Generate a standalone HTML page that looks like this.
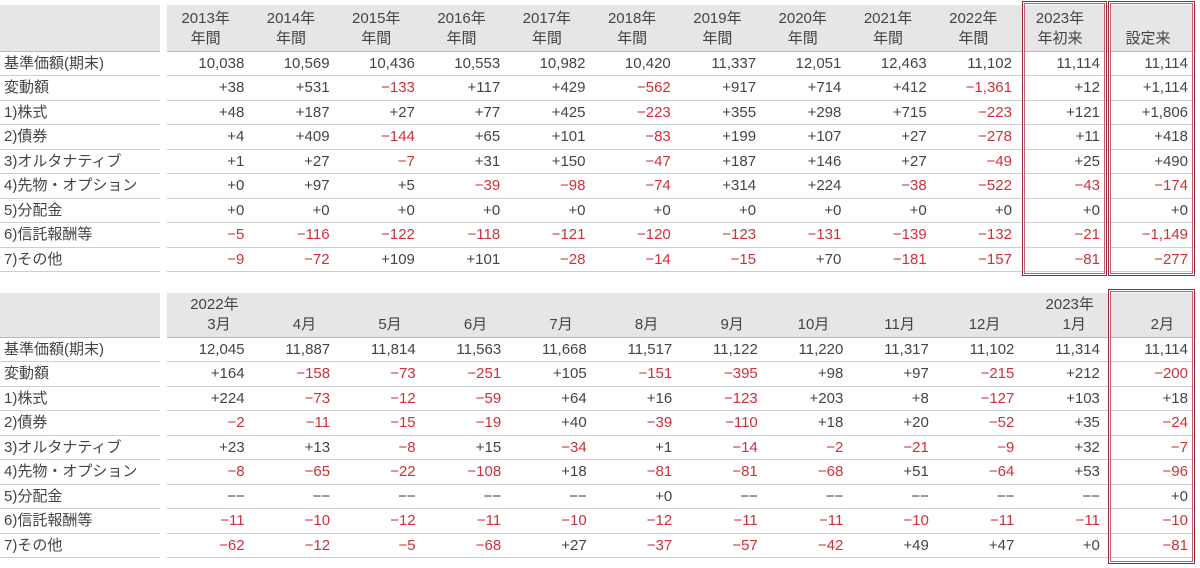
<!DOCTYPE html>
<html><head><meta charset="utf-8">
<style>
body{margin:0;background:#fff;width:1200px;height:568px;overflow:hidden;position:relative;font-family:"Liberation Sans","Noto Sans CJK JP",sans-serif;color:#444;font-size:15px;}
table{position:absolute;left:0;border-collapse:collapse;table-layout:fixed;}
td{padding:0 8px 0 0;text-align:right;white-space:nowrap;border-bottom:1px solid #cfcfcf;height:23.5px;line-height:23.5px;}
td.l{text-align:left;padding-left:4px;}
td.sp{border:none;}
tr.h td{background:#e6e6e6;border-bottom:1px solid #bbb;line-height:20px;vertical-align:bottom;padding-bottom:2px;}
tr.h td.sp{background:#fff;border:none;}
.t1 tr.h td{text-align:center;}
.t2 tr.h td span{display:block;}
.r{color:#d0303a;}
.box{position:absolute;border:1px solid #9a2a38;box-shadow:inset 0 0 0 1px #fff,inset 0 0 0 2px #c06070;}
</style></head><body>
<table class="t1" style="top:5px;width:1196px">
<colgroup><col style="width:160px"><col style="width:7px"><col span="10" style="width:85.3px"><col style="width:88px"><col style="width:88px"></colgroup>
<tr class="h" style="height:46px"><td></td><td class="sp"></td><td>2013年<br>年間</td><td>2014年<br>年間</td><td>2015年<br>年間</td><td>2016年<br>年間</td><td>2017年<br>年間</td><td>2018年<br>年間</td><td>2019年<br>年間</td><td>2020年<br>年間</td><td>2021年<br>年間</td><td>2022年<br>年間</td><td>2023年<br>年初来</td><td>設定来</td></tr>
<tr><td class="l">基準価額(期末)</td><td class="sp"></td><td>10,038</td><td>10,569</td><td>10,436</td><td>10,553</td><td>10,982</td><td>10,420</td><td>11,337</td><td>12,051</td><td>12,463</td><td>11,102</td><td>11,114</td><td>11,114</td></tr>
<tr><td class="l">変動額</td><td class="sp"></td><td>+38</td><td>+531</td><td class="r">−133</td><td>+117</td><td>+429</td><td class="r">−562</td><td>+917</td><td>+714</td><td>+412</td><td class="r">−1,361</td><td>+12</td><td>+1,114</td></tr>
<tr><td class="l">1)株式</td><td class="sp"></td><td>+48</td><td>+187</td><td>+27</td><td>+77</td><td>+425</td><td class="r">−223</td><td>+355</td><td>+298</td><td>+715</td><td class="r">−223</td><td>+121</td><td>+1,806</td></tr>
<tr><td class="l">2)債券</td><td class="sp"></td><td>+4</td><td>+409</td><td class="r">−144</td><td>+65</td><td>+101</td><td class="r">−83</td><td>+199</td><td>+107</td><td>+27</td><td class="r">−278</td><td>+11</td><td>+418</td></tr>
<tr><td class="l">3)オルタナティブ</td><td class="sp"></td><td>+1</td><td>+27</td><td class="r">−7</td><td>+31</td><td>+150</td><td class="r">−47</td><td>+187</td><td>+146</td><td>+27</td><td class="r">−49</td><td>+25</td><td>+490</td></tr>
<tr><td class="l">4)先物・オプション</td><td class="sp"></td><td>+0</td><td>+97</td><td>+5</td><td class="r">−39</td><td class="r">−98</td><td class="r">−74</td><td>+314</td><td>+224</td><td class="r">−38</td><td class="r">−522</td><td class="r">−43</td><td class="r">−174</td></tr>
<tr><td class="l">5)分配金</td><td class="sp"></td><td>+0</td><td>+0</td><td>+0</td><td>+0</td><td>+0</td><td>+0</td><td>+0</td><td>+0</td><td>+0</td><td>+0</td><td>+0</td><td>+0</td></tr>
<tr><td class="l">6)信託報酬等</td><td class="sp"></td><td class="r">−5</td><td class="r">−116</td><td class="r">−122</td><td class="r">−118</td><td class="r">−121</td><td class="r">−120</td><td class="r">−123</td><td class="r">−131</td><td class="r">−139</td><td class="r">−132</td><td class="r">−21</td><td class="r">−1,149</td></tr>
<tr><td class="l">7)その他</td><td class="sp"></td><td class="r">−9</td><td class="r">−72</td><td>+109</td><td>+101</td><td class="r">−28</td><td class="r">−14</td><td class="r">−15</td><td>+70</td><td class="r">−181</td><td class="r">−157</td><td class="r">−81</td><td class="r">−277</td></tr>
</table>
<table class="t2" style="top:293px;width:1196px">
<colgroup><col style="width:160px"><col style="width:7px"><col span="11" style="width:85.5px"><col style="width:88px"></colgroup>
<tr class="h" style="height:44px"><td></td><td class="sp"></td>
<td><span style="padding-right:6px">2022年</span><span style="padding-right:14px">3月</span></td>
<td style="padding-right:22px">4月</td><td style="padding-right:22px">5月</td><td style="padding-right:22px">6月</td><td style="padding-right:22px">7月</td><td style="padding-right:22px">8月</td><td style="padding-right:22px">9月</td><td style="padding-right:22px">10月</td><td style="padding-right:22px">11月</td><td style="padding-right:22px">12月</td>
<td><span style="padding-right:6px">2023年</span><span style="padding-right:14px">1月</span></td><td style="padding-right:22px">2月</td></tr>
<tr><td class="l">基準価額(期末)</td><td class="sp"></td><td>12,045</td><td>11,887</td><td>11,814</td><td>11,563</td><td>11,668</td><td>11,517</td><td>11,122</td><td>11,220</td><td>11,317</td><td>11,102</td><td>11,314</td><td>11,114</td></tr>
<tr><td class="l">変動額</td><td class="sp"></td><td>+164</td><td class="r">−158</td><td class="r">−73</td><td class="r">−251</td><td>+105</td><td class="r">−151</td><td class="r">−395</td><td>+98</td><td>+97</td><td class="r">−215</td><td>+212</td><td class="r">−200</td></tr>
<tr><td class="l">1)株式</td><td class="sp"></td><td>+224</td><td class="r">−73</td><td class="r">−12</td><td class="r">−59</td><td>+64</td><td>+16</td><td class="r">−123</td><td>+203</td><td>+8</td><td class="r">−127</td><td>+103</td><td>+18</td></tr>
<tr><td class="l">2)債券</td><td class="sp"></td><td class="r">−2</td><td class="r">−11</td><td class="r">−15</td><td class="r">−19</td><td>+40</td><td class="r">−39</td><td class="r">−110</td><td>+18</td><td>+20</td><td class="r">−52</td><td>+35</td><td class="r">−24</td></tr>
<tr><td class="l">3)オルタナティブ</td><td class="sp"></td><td>+23</td><td>+13</td><td class="r">−8</td><td>+15</td><td class="r">−34</td><td>+1</td><td class="r">−14</td><td class="r">−2</td><td class="r">−21</td><td class="r">−9</td><td>+32</td><td class="r">−7</td></tr>
<tr><td class="l">4)先物・オプション</td><td class="sp"></td><td class="r">−8</td><td class="r">−65</td><td class="r">−22</td><td class="r">−108</td><td>+18</td><td class="r">−81</td><td class="r">−81</td><td class="r">−68</td><td>+51</td><td class="r">−64</td><td>+53</td><td class="r">−96</td></tr>
<tr><td class="l">5)分配金</td><td class="sp"></td><td>−−</td><td>−−</td><td>−−</td><td>−−</td><td>−−</td><td>+0</td><td>−−</td><td>−−</td><td>−−</td><td>−−</td><td>−−</td><td>+0</td></tr>
<tr><td class="l">6)信託報酬等</td><td class="sp"></td><td class="r">−11</td><td class="r">−10</td><td class="r">−12</td><td class="r">−11</td><td class="r">−10</td><td class="r">−12</td><td class="r">−11</td><td class="r">−11</td><td class="r">−10</td><td class="r">−11</td><td class="r">−11</td><td class="r">−10</td></tr>
<tr><td class="l">7)その他</td><td class="sp"></td><td class="r">−62</td><td class="r">−12</td><td class="r">−5</td><td class="r">−68</td><td>+27</td><td class="r">−37</td><td class="r">−57</td><td class="r">−42</td><td>+49</td><td>+47</td><td>+0</td><td class="r">−81</td></tr>
</table>
<div class="box" style="left:1022px;top:1px;width:83px;height:273px"></div>
<div class="box" style="left:1108px;top:1px;width:85px;height:273px"></div>
<div class="box" style="left:1108px;top:289px;width:85px;height:273px"></div>
</body></html>
